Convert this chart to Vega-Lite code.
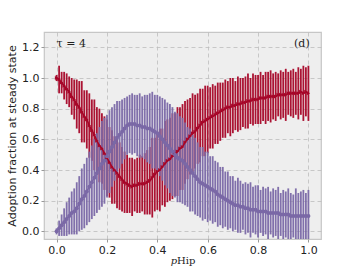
{
"$schema": "https://vega.github.io/schema/vega-lite/v6.json",
"width": 277, "height": 207,
"autosize": "none",
"padding": {"left": 44, "top": 32, "right": 36, "bottom": 29},
"background": "white",
"config": {
  "view": {"fill": "#eeeeee", "stroke": "#c6c6c6", "strokeWidth": 1.2},
  "axis": {"domain": false, "gridColor": "#bdbdbd", "gridDash": [4, 3], "gridWidth": 0.8, "tickColor": "#999999", "tickSize": 3, "labelFont": "DejaVu Sans", "labelFontSize": 11, "labelColor": "#222222", "labelOverlap": false, "titleFont": "DejaVu Sans", "titleFontSize": 11, "titleColor": "#222222", "titleFontWeight": "normal", "labelPadding": 2}
},
"datasets": {
"d": [
{"x":0.00,"s":"r","m":1.00,"e":0.02},{"x":0.01,"s":"r","m":0.99,"e":0.09},{"x":0.02,"s":"r","m":0.97,"e":0.07},{"x":0.03,"s":"r","m":0.95,"e":0.09},{"x":0.04,"s":"r","m":0.93,"e":0.10},{"x":0.05,"s":"r","m":0.91,"e":0.10},{"x":0.06,"s":"r","m":0.88,"e":0.12},{"x":0.07,"s":"r","m":0.86,"e":0.13},{"x":0.08,"s":"r","m":0.83,"e":0.16},{"x":0.09,"s":"r","m":0.81,"e":0.17},
{"x":0.10,"s":"r","m":0.78,"e":0.20},{"x":0.11,"s":"r","m":0.75,"e":0.17},{"x":0.12,"s":"r","m":0.73,"e":0.19},{"x":0.13,"s":"r","m":0.69,"e":0.21},{"x":0.14,"s":"r","m":0.66,"e":0.20},{"x":0.15,"s":"r","m":0.63,"e":0.23},{"x":0.16,"s":"r","m":0.59,"e":0.22},{"x":0.17,"s":"r","m":0.56,"e":0.24},{"x":0.18,"s":"r","m":0.54,"e":0.23},{"x":0.19,"s":"r","m":0.51,"e":0.24},
{"x":0.20,"s":"r","m":0.48,"e":0.25},{"x":0.21,"s":"r","m":0.45,"e":0.23},{"x":0.22,"s":"r","m":0.42,"e":0.24},{"x":0.23,"s":"r","m":0.40,"e":0.22},{"x":0.24,"s":"r","m":0.38,"e":0.23},{"x":0.25,"s":"r","m":0.36,"e":0.22},{"x":0.26,"s":"r","m":0.34,"e":0.21},{"x":0.27,"s":"r","m":0.32,"e":0.20},{"x":0.28,"s":"r","m":0.31,"e":0.19},{"x":0.29,"s":"r","m":0.30,"e":0.18},
{"x":0.30,"s":"r","m":0.29,"e":0.19},{"x":0.31,"s":"r","m":0.30,"e":0.17},{"x":0.32,"s":"r","m":0.30,"e":0.18},{"x":0.33,"s":"r","m":0.31,"e":0.19},{"x":0.34,"s":"r","m":0.31,"e":0.18},{"x":0.35,"s":"r","m":0.31,"e":0.20},{"x":0.36,"s":"r","m":0.32,"e":0.21},{"x":0.37,"s":"r","m":0.33,"e":0.22},{"x":0.38,"s":"r","m":0.35,"e":0.26},{"x":0.39,"s":"r","m":0.37,"e":0.24},
{"x":0.40,"s":"r","m":0.39,"e":0.25},{"x":0.41,"s":"r","m":0.40,"e":0.27},{"x":0.42,"s":"r","m":0.42,"e":0.25},{"x":0.43,"s":"r","m":0.44,"e":0.28},{"x":0.44,"s":"r","m":0.46,"e":0.27},{"x":0.45,"s":"r","m":0.47,"e":0.27},{"x":0.46,"s":"r","m":0.49,"e":0.28},{"x":0.47,"s":"r","m":0.50,"e":0.27},{"x":0.48,"s":"r","m":0.52,"e":0.29},{"x":0.49,"s":"r","m":0.54,"e":0.27},
{"x":0.50,"s":"r","m":0.55,"e":0.28},{"x":0.51,"s":"r","m":0.58,"e":0.27},{"x":0.52,"s":"r","m":0.60,"e":0.26},{"x":0.53,"s":"r","m":0.62,"e":0.25},{"x":0.54,"s":"r","m":0.64,"e":0.26},{"x":0.55,"s":"r","m":0.65,"e":0.24},{"x":0.56,"s":"r","m":0.67,"e":0.23},{"x":0.57,"s":"r","m":0.69,"e":0.24},{"x":0.58,"s":"r","m":0.71,"e":0.22},{"x":0.59,"s":"r","m":0.72,"e":0.23},
{"x":0.60,"s":"r","m":0.73,"e":0.22},{"x":0.61,"s":"r","m":0.74,"e":0.20},{"x":0.62,"s":"r","m":0.75,"e":0.21},{"x":0.63,"s":"r","m":0.76,"e":0.19},{"x":0.64,"s":"r","m":0.77,"e":0.20},{"x":0.65,"s":"r","m":0.78,"e":0.19},{"x":0.66,"s":"r","m":0.79,"e":0.18},{"x":0.67,"s":"r","m":0.80,"e":0.19},{"x":0.68,"s":"r","m":0.81,"e":0.17},{"x":0.69,"s":"r","m":0.81,"e":0.19},
{"x":0.70,"s":"r","m":0.82,"e":0.18},{"x":0.71,"s":"r","m":0.82,"e":0.16},{"x":0.72,"s":"r","m":0.83,"e":0.18},{"x":0.73,"s":"r","m":0.83,"e":0.17},{"x":0.74,"s":"r","m":0.84,"e":0.16},{"x":0.75,"s":"r","m":0.84,"e":0.17},{"x":0.76,"s":"r","m":0.85,"e":0.18},{"x":0.77,"s":"r","m":0.85,"e":0.15},{"x":0.78,"s":"r","m":0.86,"e":0.17},{"x":0.79,"s":"r","m":0.86,"e":0.16},
{"x":0.80,"s":"r","m":0.86,"e":0.16},{"x":0.81,"s":"r","m":0.87,"e":0.17},{"x":0.82,"s":"r","m":0.87,"e":0.15},{"x":0.83,"s":"r","m":0.87,"e":0.17},{"x":0.84,"s":"r","m":0.88,"e":0.16},{"x":0.85,"s":"r","m":0.88,"e":0.17},{"x":0.86,"s":"r","m":0.88,"e":0.15},{"x":0.87,"s":"r","m":0.88,"e":0.16},{"x":0.88,"s":"r","m":0.89,"e":0.14},{"x":0.89,"s":"r","m":0.89,"e":0.16},
{"x":0.90,"s":"r","m":0.89,"e":0.15},{"x":0.91,"s":"r","m":0.89,"e":0.17},{"x":0.92,"s":"r","m":0.90,"e":0.14},{"x":0.93,"s":"r","m":0.90,"e":0.15},{"x":0.94,"s":"r","m":0.90,"e":0.16},{"x":0.95,"s":"r","m":0.90,"e":0.14},{"x":0.96,"s":"r","m":0.90,"e":0.17},{"x":0.97,"s":"r","m":0.91,"e":0.15},{"x":0.98,"s":"r","m":0.90,"e":0.18},{"x":0.99,"s":"r","m":0.91,"e":0.16},
{"x":1.00,"s":"r","m":0.90,"e":0.18},
{"x":0.00,"s":"p","m":0.00,"e":0.02},{"x":0.01,"s":"p","m":0.02,"e":0.05},{"x":0.02,"s":"p","m":0.04,"e":0.07},{"x":0.03,"s":"p","m":0.06,"e":0.09},{"x":0.04,"s":"p","m":0.08,"e":0.11},{"x":0.05,"s":"p","m":0.10,"e":0.12},{"x":0.06,"s":"p","m":0.12,"e":0.14},{"x":0.07,"s":"p","m":0.13,"e":0.15},{"x":0.08,"s":"p","m":0.15,"e":0.17},{"x":0.09,"s":"p","m":0.18,"e":0.18},
{"x":0.10,"s":"p","m":0.21,"e":0.20},{"x":0.11,"s":"p","m":0.23,"e":0.21},{"x":0.12,"s":"p","m":0.26,"e":0.22},{"x":0.13,"s":"p","m":0.29,"e":0.23},{"x":0.14,"s":"p","m":0.32,"e":0.24},{"x":0.15,"s":"p","m":0.35,"e":0.25},{"x":0.16,"s":"p","m":0.38,"e":0.26},{"x":0.17,"s":"p","m":0.41,"e":0.27},{"x":0.18,"s":"p","m":0.44,"e":0.28},{"x":0.19,"s":"p","m":0.46,"e":0.28},
{"x":0.20,"s":"p","m":0.49,"e":0.27},{"x":0.21,"s":"p","m":0.52,"e":0.27},{"x":0.22,"s":"p","m":0.55,"e":0.26},{"x":0.23,"s":"p","m":0.58,"e":0.25},{"x":0.24,"s":"p","m":0.61,"e":0.24},{"x":0.25,"s":"p","m":0.63,"e":0.22},{"x":0.26,"s":"p","m":0.65,"e":0.21},{"x":0.27,"s":"p","m":0.67,"e":0.20},{"x":0.28,"s":"p","m":0.69,"e":0.19},{"x":0.29,"s":"p","m":0.70,"e":0.19},
{"x":0.30,"s":"p","m":0.70,"e":0.20},{"x":0.31,"s":"p","m":0.70,"e":0.19},{"x":0.32,"s":"p","m":0.69,"e":0.20},{"x":0.33,"s":"p","m":0.69,"e":0.21},{"x":0.34,"s":"p","m":0.68,"e":0.20},{"x":0.35,"s":"p","m":0.68,"e":0.21},{"x":0.36,"s":"p","m":0.67,"e":0.22},{"x":0.37,"s":"p","m":0.67,"e":0.23},{"x":0.38,"s":"p","m":0.66,"e":0.25},{"x":0.39,"s":"p","m":0.65,"e":0.24},
{"x":0.40,"s":"p","m":0.64,"e":0.25},{"x":0.41,"s":"p","m":0.62,"e":0.26},{"x":0.42,"s":"p","m":0.60,"e":0.27},{"x":0.43,"s":"p","m":0.58,"e":0.28},{"x":0.44,"s":"p","m":0.56,"e":0.28},{"x":0.45,"s":"p","m":0.54,"e":0.29},{"x":0.46,"s":"p","m":0.52,"e":0.29},{"x":0.47,"s":"p","m":0.50,"e":0.28},{"x":0.48,"s":"p","m":0.48,"e":0.29},{"x":0.49,"s":"p","m":0.47,"e":0.28},
{"x":0.50,"s":"p","m":0.46,"e":0.28},{"x":0.51,"s":"p","m":0.44,"e":0.27},{"x":0.52,"s":"p","m":0.42,"e":0.26},{"x":0.53,"s":"p","m":0.40,"e":0.27},{"x":0.54,"s":"p","m":0.38,"e":0.25},{"x":0.55,"s":"p","m":0.36,"e":0.25},{"x":0.56,"s":"p","m":0.34,"e":0.24},{"x":0.57,"s":"p","m":0.32,"e":0.23},{"x":0.58,"s":"p","m":0.31,"e":0.24},{"x":0.59,"s":"p","m":0.30,"e":0.22},
{"x":0.60,"s":"p","m":0.29,"e":0.23},{"x":0.61,"s":"p","m":0.28,"e":0.21},{"x":0.62,"s":"p","m":0.27,"e":0.22},{"x":0.63,"s":"p","m":0.26,"e":0.20},{"x":0.64,"s":"p","m":0.24,"e":0.21},{"x":0.65,"s":"p","m":0.23,"e":0.19},{"x":0.66,"s":"p","m":0.22,"e":0.20},{"x":0.67,"s":"p","m":0.21,"e":0.18},{"x":0.68,"s":"p","m":0.20,"e":0.19},{"x":0.69,"s":"p","m":0.19,"e":0.17},
{"x":0.70,"s":"p","m":0.18,"e":0.18},{"x":0.71,"s":"p","m":0.17,"e":0.16},{"x":0.72,"s":"p","m":0.17,"e":0.18},{"x":0.73,"s":"p","m":0.16,"e":0.17},{"x":0.74,"s":"p","m":0.16,"e":0.15},{"x":0.75,"s":"p","m":0.15,"e":0.17},{"x":0.76,"s":"p","m":0.15,"e":0.16},{"x":0.77,"s":"p","m":0.14,"e":0.18},{"x":0.78,"s":"p","m":0.14,"e":0.15},{"x":0.79,"s":"p","m":0.14,"e":0.16},
{"x":0.80,"s":"p","m":0.13,"e":0.17},{"x":0.81,"s":"p","m":0.13,"e":0.14},{"x":0.82,"s":"p","m":0.13,"e":0.16},{"x":0.83,"s":"p","m":0.13,"e":0.15},{"x":0.84,"s":"p","m":0.12,"e":0.17},{"x":0.85,"s":"p","m":0.12,"e":0.14},{"x":0.86,"s":"p","m":0.12,"e":0.16},{"x":0.87,"s":"p","m":0.12,"e":0.15},{"x":0.88,"s":"p","m":0.12,"e":0.17},{"x":0.89,"s":"p","m":0.11,"e":0.14},
{"x":0.90,"s":"p","m":0.11,"e":0.16},{"x":0.91,"s":"p","m":0.11,"e":0.15},{"x":0.92,"s":"p","m":0.11,"e":0.17},{"x":0.93,"s":"p","m":0.10,"e":0.15},{"x":0.94,"s":"p","m":0.10,"e":0.14},{"x":0.95,"s":"p","m":0.10,"e":0.18},{"x":0.96,"s":"p","m":0.10,"e":0.15},{"x":0.97,"s":"p","m":0.10,"e":0.16},{"x":0.98,"s":"p","m":0.10,"e":0.17},{"x":0.99,"s":"p","m":0.10,"e":0.15},
{"x":1.00,"s":"p","m":0.10,"e":0.17}
],
"lt": [{"x": 0.0, "m": 1.224, "t": "τ = 4"}],
"rt": [{"x": 1.005, "m": 1.224, "t": "(d)"}]
},
"encoding": {
  "x": {"field": "x", "type": "quantitative", "scale": {"domain": [-0.05, 1.05], "nice": false, "zero": false}, "axis": {"values": [0, 0.2, 0.4, 0.6, 0.8, 1.0], "format": ".1f", "title": "𝑝Hip", "titleFont": "DejaVu Serif", "titleFontSize": 10, "titlePadding": 0}},
  "y": {"field": "m", "type": "quantitative", "scale": {"domain": [-0.05, 1.3], "nice": false, "zero": false}, "axis": {"values": [0, 0.2, 0.4, 0.6, 0.8, 1.0, 1.2], "tickCount": 7, "format": ".1f", "title": "Adoption fraction at steady state", "titlePadding": 4}}
},
"layer": [
  {"data": {"name": "d"},
   "mark": {"type": "errorbar", "thickness": 1.8, "ticks": false, "clip": true, "opacity": 0.95},
   "encoding": {
     "yError": {"field": "e"},
     "color": {"field": "s", "type": "nominal", "scale": {"domain": ["r", "p"], "range": ["#A60628", "#7A68A6"]}, "legend": null}
   }},
  {"data": {"name": "d"},
   "mark": {"type": "line", "strokeWidth": 1.6, "clip": true},
   "encoding": {
     "color": {"field": "s", "type": "nominal", "scale": {"domain": ["r", "p"], "range": ["#A60628", "#7A68A6"]}, "legend": null}
   }},
  {"data": {"name": "d"},
   "mark": {"type": "point", "filled": true, "opacity": 1, "size": 16, "clip": true},
   "encoding": {
     "color": {"field": "s", "type": "nominal", "scale": {"domain": ["r", "p"], "range": ["#A60628", "#7A68A6"]}, "legend": null},
     "shape": {"field": "s", "type": "nominal", "scale": {"domain": ["r", "p"], "range": ["triangle-right", "circle"]}, "legend": null}
   }},
  {"data": {"name": "lt"},
   "mark": {"type": "text", "align": "left", "baseline": "middle", "font": "DejaVu Serif", "fontSize": 11, "color": "#222222"},
   "encoding": {"text": {"field": "t"}}},
  {"data": {"name": "rt"},
   "mark": {"type": "text", "align": "right", "baseline": "middle", "font": "DejaVu Serif", "fontSize": 11, "color": "#222222"},
   "encoding": {"text": {"field": "t"}}}
]
}
